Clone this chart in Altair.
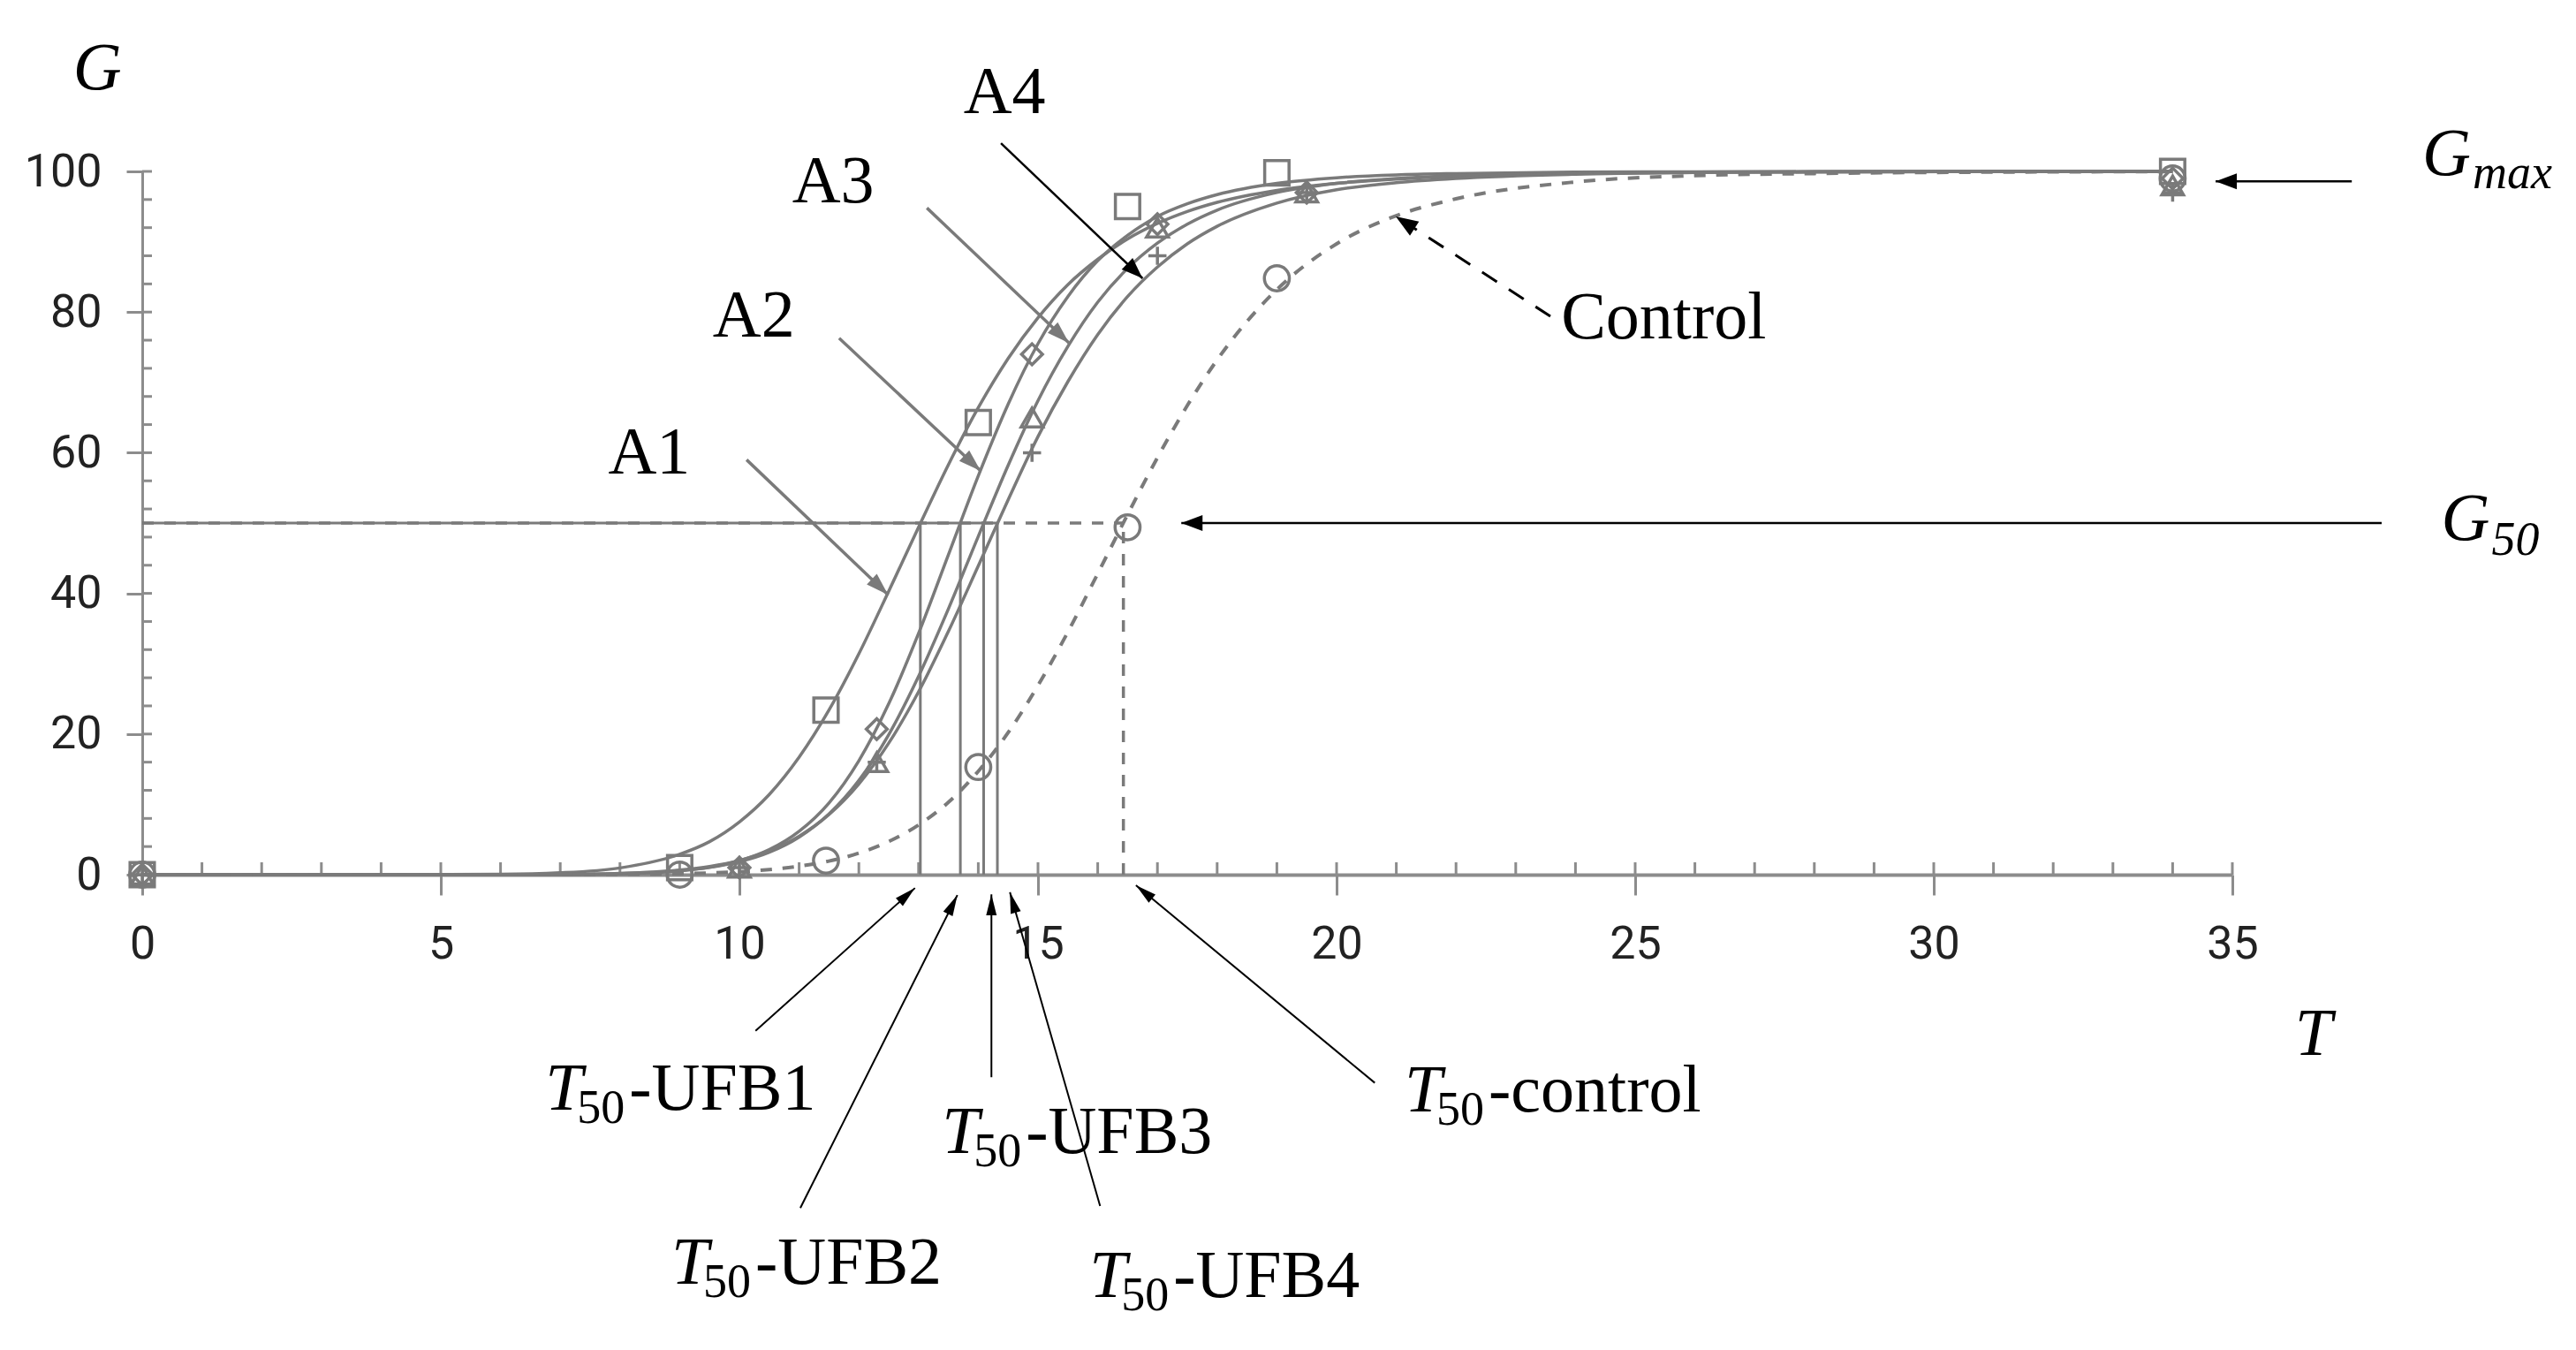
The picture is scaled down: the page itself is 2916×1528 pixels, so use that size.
import math
import altair as alt
import pandas as pd

# ---------------- data ----------------
# fitted curves, sampled along T
curve_t = [0, 3, 6, 7, 8, 9, 9.5, 10, 10.5, 11, 11.5, 12, 12.5, 13, 13.5, 14, 14.5,
           15, 15.5, 16, 16.5, 17, 17.5, 18, 19, 20, 21, 22, 24, 26, 28, 31, 34]
curve_a1 = [0, 0, 0.06, 0.27, 0.96, 2.9, 4.7, 7.5, 11.4, 16.7, 23.4, 31.4, 40.3, 49.4, 58.3,
            66.4, 73.4, 79.2, 83.9, 87.5, 90.4, 92.6, 94.3, 95.6, 97.3, 98.3, 98.9, 99.3,
            99.7, 99.9, 99.9, 100, 100]
curve_a2 = [0, 0, 0, 0.02, 0.13, 0.54, 1.06, 1.98, 3.56, 6.17, 10.2, 16.2, 24.3, 34.3, 45.5,
            56.7, 66.9, 75.5, 82.2, 87.3, 90.9, 93.6, 95.4, 96.7, 98.3, 99.1, 99.5, 99.7,
            99.9, 99.95, 99.98, 100, 100]
curve_a3 = [0, 0, 0, 0.03, 0.14, 0.55, 1.02, 1.84, 3.19, 5.35, 8.65, 13.4, 19.9, 28.2, 37.8,
            48.1, 58.2, 67.4, 75.1, 81.4, 86.2, 89.8, 92.5, 94.5, 97.0, 98.3, 99.0, 99.4,
            99.8, 99.9, 99.96, 99.99, 100]
curve_a4 = [0, 0, 0.01, 0.04, 0.19, 0.66, 1.18, 2.03, 3.38, 5.47, 8.55, 12.9, 18.7, 26.0, 34.6,
            43.9, 53.3, 62.3, 70.1, 76.8, 82.2, 86.4, 89.7, 92.2, 95.5, 97.4, 98.4, 99.0,
            99.6, 99.84, 99.93, 99.98, 99.99]
curve_ctrl = [0, 0, 0, 0.01, 0.04, 0.13, 0.24, 0.42, 0.72, 1.2, 1.93, 3.06, 4.71, 7.07, 10.3,
              14.7, 20.2, 26.9, 34.5, 42.8, 51.2, 59.3, 66.7, 73.2, 83.2, 89.7, 93.7, 96.1,
              98.5, 99.4, 99.7, 99.9, 99.97]

# measured points
sq_t = [0, 9, 11.45, 14, 16.5, 19, 34]
sq_g = [0, 1, 23.4, 64.3, 95, 99.8, 100]
di_t = [0, 10, 12.3, 14.9, 17, 19.5, 34]
di_g = [0, 1, 20.7, 74, 92.5, 97, 99]
tr_t = [0, 10, 12.3, 14.9, 17, 19.5, 34]
tr_g = [0, 1, 16, 65, 92, 97, 98]
pl_t = [0, 10, 12.3, 14.9, 17, 19.5, 34]
pl_g = [0, 1, 16, 60, 88, 97, 97]
ci_t = [0, 9, 11.45, 14, 16.5, 19, 34]
ci_g = [0, 0, 2, 15.3, 49.4, 84.8, 99]

# T50 values
t50_ufb = [13.03, 13.70, 14.09, 14.32]
t50_ctrl = 16.43
g50 = 50

x_ticks = [0, 5, 10, 15, 20, 25, 30, 35]
y_ticks = [0, 20, 40, 60, 80, 100]
x_minor = list(range(1, 36))
y_minor = list(range(4, 101, 4))

# annotation arrows: start -> tip (data units)
arr_name = ["A1", "A2", "A3", "A4", "G50", "Gmax", "T1", "T2", "T3", "T4", "Tc", "Ctrl"]
arr_x0 = [10.12, 11.67, 13.14, 14.38, 37.5, 37.0, 10.27, 11.02, 14.22, 16.04, 20.64, 23.58]
arr_y0 = [59.0, 76.3, 94.8, 104.0, 50.0, 98.6, -22.2, -47.4, -28.8, -47.1, -29.6, 79.4]
arr_x1 = [12.49, 14.04, 15.52, 16.75, 17.4, 34.72, 12.94, 13.65, 14.22, 14.53, 16.64, 20.99]
arr_y1 = [39.8, 57.4, 75.6, 84.8, 50.0, 98.6, -1.9, -2.9, -2.8, -2.5, -1.5, 93.6]
arr_grp = ["gray", "gray", "gray", "black", "black", "black", "thin", "thin", "thin", "thin",
           "thin", "dash"]

# text labels
a_lab = ["A1", "A2", "A3", "A4"]
a_x = [8.49, 10.24, 11.57, 14.44]
a_y = [57.0, 76.5, 95.6, 108.3]
t50_suffix = ["-UFB1", "-UFB2", "-UFB3", "-UFB4", "-control"]
t50_x = [6.75, 8.86, 13.39, 15.86, 21.14]
t50_y = [-33.4, -58.2, -39.6, -60.1, -33.7]

# ---------------- styling ----------------
W, H = 2366, 796
KX, KY = W / 35.0, H / 100.0
GRAY = "#7a7a7a"
AXG = "#8c8c8c"
SERIF = "Liberation Serif"
SANS = "Liberation Sans Narrow, Roboto, Liberation Sans"

xscale = alt.Scale(domain=[0, 35], nice=False, zero=False)
yscale = alt.Scale(domain=[0, 100], nice=False, zero=False)
xaxis = alt.Axis(values=x_ticks, tickSize=23, tickWidth=3, tickColor=AXG, domainColor=AXG,
                 domainWidth=4, labelFont=SANS, labelFontSize=52, labelColor="#222222",
                 labelPadding=30, title=None, grid=False, labelFlush=False, labelOverlap=False)
yaxis = alt.Axis(values=y_ticks, tickSize=18, tickWidth=3, tickColor=AXG, domainColor=AXG,
                 domainWidth=3, labelFont=SANS, labelFontSize=52, labelColor="#222222",
                 labelPadding=28, title=None, grid=False, labelFlush=False, labelOverlap=False)


def X(f="x"):
    return alt.X(f, type="quantitative", scale=xscale, axis=xaxis)


def Y(f="y"):
    return alt.Y(f, type="quantitative", scale=yscale, axis=yaxis)


layers = []

# inner minor ticks
df_xm = pd.DataFrame({"x": x_minor, "y": [0] * len(x_minor)})
layers.append(alt.Chart(df_xm).mark_rule(color=AXG, strokeWidth=3, y2Offset=-14).encode(
    x=X(), y=Y(), y2=alt.Y2("y")))
df_ym = pd.DataFrame({"x": [0] * len(y_minor), "y": y_minor})
layers.append(alt.Chart(df_ym).mark_rule(color=AXG, strokeWidth=3, x2Offset=11).encode(
    x=X(), x2=alt.X2("x"), y=Y()))

# T50 guide lines
df_v = pd.DataFrame({"x": t50_ufb, "y": [0] * 4, "y2": [g50] * 4})
layers.append(alt.Chart(df_v).mark_rule(color=GRAY, strokeWidth=3).encode(
    x=X(), y=Y(), y2=alt.Y2("y2")))
df_h = pd.DataFrame({"x": [0], "x2": [max(t50_ufb)], "y": [g50]})
layers.append(alt.Chart(df_h).mark_rule(color=GRAY, strokeWidth=3).encode(
    x=X(), x2=alt.X2("x2"), y=Y()))
df_hd = pd.DataFrame({"x": [0], "x2": [t50_ctrl], "y": [g50]})
layers.append(alt.Chart(df_hd).mark_rule(color=GRAY, strokeWidth=3.5, strokeDash=[13, 12]).encode(
    x=X(), x2=alt.X2("x2"), y=Y()))
df_vd = pd.DataFrame({"x": [t50_ctrl], "y": [0], "y2": [g50]})
layers.append(alt.Chart(df_vd).mark_rule(color=GRAY, strokeWidth=3.5, strokeDash=[13, 12]).encode(
    x=X(), y=Y(), y2=alt.Y2("y2")))

# curves
rows = []
for name, vals in [("A1", curve_a1), ("A2", curve_a2), ("A3", curve_a3), ("A4", curve_a4)]:
    for t, g in zip(curve_t, vals):
        rows.append({"x": t, "y": g, "s": name})
df_c = pd.DataFrame(rows)
layers.append(alt.Chart(df_c).mark_line(color=GRAY, strokeWidth=3.5, interpolate="monotone").encode(
    x=X(), y=Y(), detail="s:N"))
df_cc = pd.DataFrame({"x": curve_t, "y": curve_ctrl})
layers.append(alt.Chart(df_cc).mark_line(color=GRAY, strokeWidth=4, interpolate="monotone",
                                         strokeDash=[13, 12]).encode(x=X(), y=Y()))

# markers
def pts(ts, gs, shape, size):
    d = pd.DataFrame({"x": ts, "y": gs})
    return alt.Chart(d).mark_point(shape=shape, size=size, filled=False, color=GRAY,
                                   strokeWidth=3.5, opacity=1).encode(x=X(), y=Y())


layers.append(pts(sq_t, sq_g, "square", 760))
layers.append(pts(di_t, di_g, "diamond", 560))
layers.append(pts(tr_t, tr_g, "triangle-up", 600))
layers.append(pts(pl_t, pl_g, "M-1,0L1,0M0,-1L0,1", 420))
layers.append(pts(ci_t, ci_g, "circle", 800))

# arrows
angs = []
for a, b, c, d in zip(arr_x0, arr_y0, arr_x1, arr_y1):
    dxs = (c - a) * KX
    dys = -(d - b) * KY
    angs.append(math.degrees(math.atan2(dxs, -dys)) % 360)
df_a = pd.DataFrame({"x": arr_x0, "y": arr_y0, "x2": arr_x1, "y2": arr_y1, "g": arr_grp,
                     "ang": angs, "n": arr_name})

arrow_style = {
    "gray": dict(color=GRAY, w=3.5, dash=None, head="M0,0L0.55,1.7L-0.55,1.7Z", size=900),
    "black": dict(color="black", w=2.5, dash=None, head="M0,0L0.6,1.6L-0.6,1.6Z", size=900),
    "thin": dict(color="black", w=2, dash=None, head="M0,0L0.45,1.8L-0.45,1.8Z", size=700),
    "dash": dict(color="black", w=3, dash=[20, 16], head="M0,0L0.6,1.6L-0.6,1.6Z", size=1000),
}
for g, st in arrow_style.items():
    sub = df_a[df_a["g"] == g]
    kw = dict(color=st["color"], strokeWidth=st["w"])
    if st["dash"]:
        kw["strokeDash"] = st["dash"]
    layers.append(alt.Chart(sub).mark_rule(**kw).encode(
        x=X(), y=Y(), x2=alt.X2("x2"), y2=alt.Y2("y2")))
    layers.append(alt.Chart(sub).mark_point(shape=st["head"], size=st["size"], filled=True,
                                            color=st["color"], opacity=1, strokeWidth=0).encode(
        x=X("x2"), y=Y("y2"), angle=alt.Angle("ang:Q", scale=None)))

# texts
def txt(d, **kw):
    base = dict(font=SERIF, fontSize=76, color="black", baseline="alphabetic")
    base.update(kw)
    return alt.Chart(pd.DataFrame(d)).mark_text(**base).encode(x=X(), y=Y(), text="t:N")


layers.append(txt({"x": a_x, "y": a_y, "t": a_lab}, align="center"))
layers.append(txt({"x": [23.76], "y": [76.3], "t": ["Control"]}, align="left"))
layers.append(txt({"x": [-0.75], "y": [111.7], "t": ["G"]}, align="center", fontStyle="italic"))
layers.append(txt({"x": [36.36], "y": [-25.6], "t": ["T"]}, align="center", fontStyle="italic"))
layers.append(txt({"x": t50_x, "y": t50_y, "t": ["T"] * 5}, align="left", fontStyle="italic"))
layers.append(txt({"x": t50_x, "y": t50_y, "t": ["50"] * 5}, align="left", fontSize=54, dx=36, dy=15))
layers.append(txt({"x": t50_x, "y": t50_y, "t": t50_suffix}, align="left", dx=95))
layers.append(txt({"x": [38.18], "y": [99.5], "t": ["G"]}, align="left", fontStyle="italic"))
layers.append(txt({"x": [38.18], "y": [99.5], "t": ["max"]}, align="left", fontStyle="italic",
                  fontSize=54, dx=57, dy=15))
layers.append(txt({"x": [38.50], "y": [47.6], "t": ["G"]}, align="left", fontStyle="italic"))
layers.append(txt({"x": [38.50], "y": [47.6], "t": ["50"]}, align="left", fontStyle="italic",
                  fontSize=54, dx=57, dy=17))

chart = alt.layer(*layers).properties(
    width=W, height=H,
    autosize=alt.AutoSizeParams(type="none"),
    padding={"left": 153, "top": 186, "right": 381, "bottom": 530},
    background="white",
).configure_view(stroke=None)

chart.save("out.html", embed_options={"renderer": "svg", "actions": False})
